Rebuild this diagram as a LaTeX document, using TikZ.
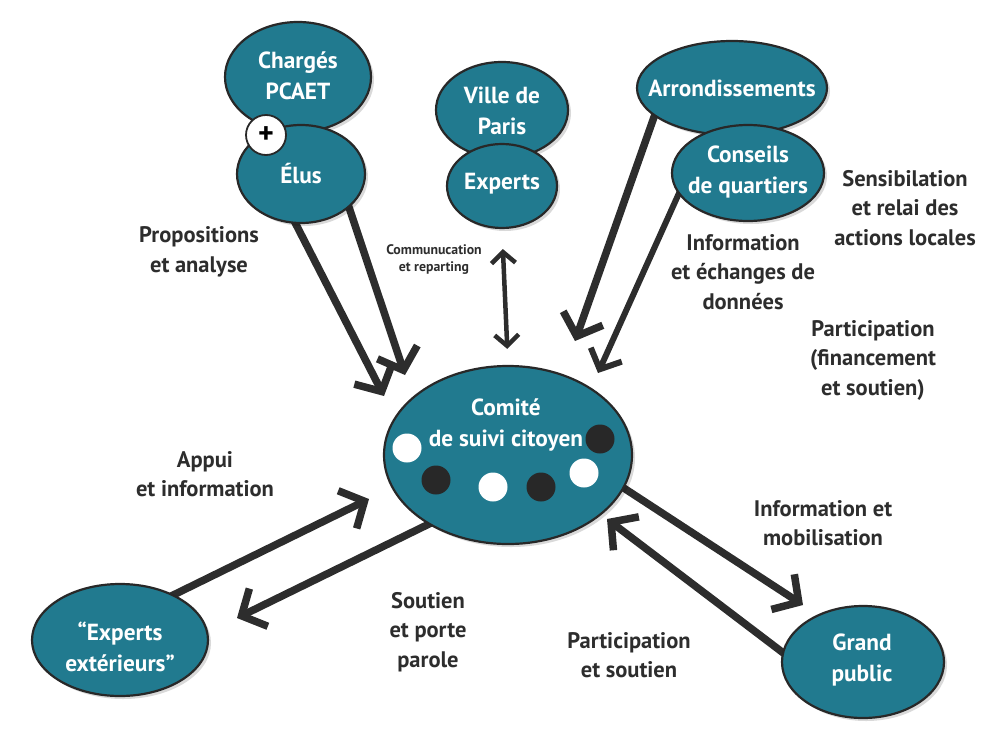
\documentclass[tikz,border=0pt]{standalone}
\usepackage{fontspec}
\setmainfont{PT Sans}
\usetikzlibrary{arrows.meta,shadows,shapes.geometric}
\pgfdeclarelayer{bg}
\pgfsetlayers{bg,main}
\definecolor{tealfill}{RGB}{33,122,143}
\definecolor{edgecol}{RGB}{40,40,40}
\definecolor{arrcol}{RGB}{45,45,45}
\definecolor{labcol}{RGB}{45,45,45}
\begin{document}
\begin{tikzpicture}[x=1pt,y=-1pt,
  bub/.style={ellipse, draw=edgecol, line width=2.2pt, fill=tealfill, inner sep=0pt,
    drop shadow={shadow xshift=3pt, shadow yshift=-3pt, opacity=0.15, fill=black}},
  btext/.style={text=white, font=\bfseries\fontsize{23.3}{31}\selectfont, align=center, inner sep=0pt},
  lab/.style={text=labcol, font=\bfseries\fontsize{22.5}{29.5}\selectfont, align=center, inner sep=0pt},
  smalllab/.style={text=labcol, font=\bfseries\fontsize{13.8}{17}\selectfont, align=center, inner sep=0pt},
  arr/.style={draw=arrcol, line width=7.5pt, shorten <=-8pt,
    -{Straight Barb[length=19pt,width=42pt,sharp]}},
  arrmid/.style={draw=arrcol, line width=6pt, shorten <=-8pt,
    -{Straight Barb[length=16pt,width=34pt,sharp]}},
  arrthin/.style={draw=arrcol, line width=4.5pt,
    {Straight Barb[length=11pt,width=24pt,sharp]}-{Straight Barb[length=11pt,width=24pt,sharp]}},
  dotw/.style={fill=white},
  dotb/.style={fill=edgecol}
]
\useasboundingbox (0,0) rectangle (1000,755);

% ellipses (back ones first)
\node[bub, minimum width=146pt, minimum height=110pt] (pcaet) at (298,77) {};
\node[bub, minimum width=128pt, minimum height=98pt] (elus) at (301,174) {};
\node[bub, minimum width=132pt, minimum height=96pt] (ville) at (502,110) {};
\node[bub, minimum width=110pt, minimum height=84pt] (experts) at (502,186) {};
\node[bub, minimum width=190pt, minimum height=94pt] (arr) at (732,88) {};
\node[bub, minimum width=152pt, minimum height=96pt] (conseils) at (748,173) {};
\node[bub, minimum width=248pt, minimum height=178pt] (comite) at (508,455) {};
\node[bub, minimum width=176pt, minimum height=112pt] (extern) at (120,640) {};
\node[bub, minimum width=162pt, minimum height=112pt] (public) at (863,662) {};

% plus sign
\node[circle, draw=edgecol, fill=white, line width=1.8pt, minimum size=40pt, inner sep=0pt,
  font=\bfseries\fontsize{30}{30}\selectfont] (plus) at (266,135) {+};

% texts inside ellipses
\node[btext] (pcaetT) at (298,76) {Chargés\\PCAET};
\node[btext] (elusT) at (301,174) {Élus};
\node[btext] (villeT) at (502,111) {Ville de\\Paris};
\node[btext] (expertsT) at (502,184) {Experts};
\node[btext] (arrT) at (732,88) {Arrondissements};
\node[btext] (conseilsT) at (748,172) {Conseils\\de quartiers};
\node[btext] (comiteT) at (506,425) {Comité\\de suivi citoyen};
\node[btext] (externT) at (120,647) {“Experts\\extérieurs”};
\node[btext] (publicT) at (862,660) {Grand\\public};

% dots in the committee
\fill[dotw] (407,448) circle (14.5);
\fill[dotb] (436,480) circle (14.5);
\fill[dotw] (493,487) circle (14.5);
\fill[dotb] (541,487) circle (14.5);
\fill[dotw] (584,473) circle (14.5);
\fill[dotb] (600,439) circle (14.5);

% arrow tips (free ends)
\coordinate (t1) at (384,396);
\coordinate (t2) at (405,375);
\coordinate (t3) at (575,341);
\coordinate (t4) at (598,373);
\coordinate (t5) at (369,499);
\coordinate (t6) at (237,618);
\coordinate (t7) at (803,605);
\coordinate (t8) at (607,519);

\begin{pgfonlayer}{bg}
\draw[arr] (elus.264) -- (t1);
\draw[arr] (elus.325) -- (t2);
\draw[arrthin, shorten <=20pt, shorten >=16pt] (experts.south) -- (comite.north);
\draw[arr] (arr.200) -- (t3);
\draw[arrmid] (conseils.197) -- (t4);
\draw[arr] (extern.40) -- (t5);
\draw[arr] (comite.221) -- (t6);
\draw[arr] (comite.344) -- (t7);
\draw[arr] (public.173) -- (t8);
\end{pgfonlayer}

% labels
\node[lab] (prop) at (199,252) {Propositions\\et analyse};
\node[smalllab] (comm) at (434,260) {Communucation\\et reparting};
\node[lab] (info1) at (743,272) {Information\\et échanges de\\données};
\node[lab] (sens) at (905,208) {Sensibilation\\et relai des\\actions locales};
\node[lab] (part1) at (873,360) {Participation\\(financement\\et soutien)};
\node[lab] (appui) at (205,474) {Appui\\et information};
\node[lab] (infomob) at (823,523) {Information et\\mobilisation};
\node[lab] (soutien) at (428,632) {Soutien\\et porte\\parole};
\node[lab] (part2) at (629,655) {Participation\\et soutien};
\end{tikzpicture}
\end{document}
